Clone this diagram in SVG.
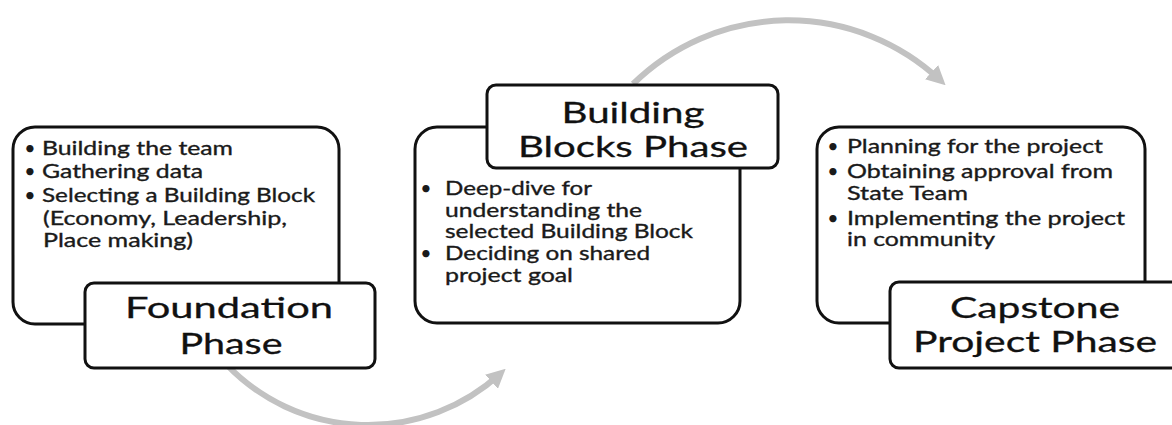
<svg xmlns="http://www.w3.org/2000/svg" width="1172" height="425" viewBox="0 0 1172 425">
  <style>
    .box { fill: #ffffff; stroke: #111111; stroke-width: 3; }
    .item { font-family: Lato, "Open Sans", sans-serif; font-size: 19.5px; fill: #1a1a1a; stroke: #1a1a1a; stroke-width: 0.35; }
    .dot { font-family: Lato, "Open Sans", sans-serif; font-size: 19.5px; fill: #1a1a1a; text-anchor: middle; }
    .title { font-family: Lato, "Open Sans", sans-serif; font-size: 29px; fill: #111111; stroke: #111111; stroke-width: 0.3; text-anchor: middle; }
    .flow { fill: none; stroke: #c2c2c2; stroke-width: 6; }
  </style>
  <defs>
    <marker id="head" viewBox="0 0 10 10" refX="6" refY="5" markerWidth="3.2" markerHeight="3.2" orient="auto" markerUnits="strokeWidth">
      <path d="M0,0 L10,5 L0,10 Z" fill="#c2c2c2"/>
    </marker>
  </defs>

  <g id="connectors">
    <path class="flow" d="M226,364 A196,196 0 0 0 500,374" marker-end="url(#head)"/>
    <path class="flow" d="M633,84 A222,222 0 0 1 940,80" marker-end="url(#head)"/>
  </g>

  <!-- Foundation phase -->
  <g id="foundation">
    <rect class="box" x="13" y="127" width="326" height="197" rx="22"/>
    <text class="dot" x="30" y="155">•</text>
    <text class="item" x="42" y="155" textLength="191" lengthAdjust="spacingAndGlyphs">Building the team</text>
    <text class="dot" x="30" y="178">•</text>
    <text class="item" x="42" y="178" textLength="161" lengthAdjust="spacingAndGlyphs">Gathering data</text>
    <text class="dot" x="30" y="202">•</text>
    <text class="item" x="42" y="202" textLength="273" lengthAdjust="spacingAndGlyphs">Selecting a Building Block</text>
    <text class="item" x="43" y="225" textLength="244" lengthAdjust="spacingAndGlyphs">(Economy, Leadership,</text>
    <text class="item" x="43" y="247" textLength="150" lengthAdjust="spacingAndGlyphs">Place making)</text>
    <rect class="box" x="85" y="283" width="290" height="85" rx="9"/>
    <text class="title" x="229" y="318" textLength="208" lengthAdjust="spacingAndGlyphs">Foundation</text>
    <text class="title" x="231" y="354" textLength="103" lengthAdjust="spacingAndGlyphs">Phase</text>
  </g>

  <!-- Building blocks phase -->
  <g id="building-blocks">
    <rect class="box" x="415" y="127" width="325" height="196" rx="22"/>
    <text class="dot" x="426" y="195">•</text>
    <text class="item" x="445" y="195" textLength="147" lengthAdjust="spacingAndGlyphs">Deep-dive for</text>
    <text class="item" x="445" y="217" textLength="197" lengthAdjust="spacingAndGlyphs">understanding the</text>
    <text class="item" x="445" y="238" textLength="248" lengthAdjust="spacingAndGlyphs">selected Building Block</text>
    <text class="dot" x="426" y="260">•</text>
    <text class="item" x="445" y="260" textLength="205" lengthAdjust="spacingAndGlyphs">Deciding on shared</text>
    <text class="item" x="445" y="282" textLength="128" lengthAdjust="spacingAndGlyphs">project goal</text>
    <rect class="box" x="487" y="85" width="291" height="83" rx="9"/>
    <text class="title" x="633" y="123" textLength="143" lengthAdjust="spacingAndGlyphs">Building</text>
    <text class="title" x="633" y="157" textLength="230" lengthAdjust="spacingAndGlyphs">Blocks Phase</text>
  </g>

  <!-- Capstone project phase -->
  <g id="capstone">
    <rect class="box" x="817" y="127" width="328" height="196" rx="22"/>
    <text class="dot" x="833" y="153">•</text>
    <text class="item" x="847" y="153" textLength="256" lengthAdjust="spacingAndGlyphs">Planning for the project</text>
    <text class="dot" x="833" y="178">•</text>
    <text class="item" x="847" y="178" textLength="266" lengthAdjust="spacingAndGlyphs">Obtaining approval from</text>
    <text class="item" x="847" y="200" textLength="121" lengthAdjust="spacingAndGlyphs">State Team</text>
    <text class="dot" x="833" y="225">•</text>
    <text class="item" x="847" y="225" textLength="278" lengthAdjust="spacingAndGlyphs">Implementing the project</text>
    <text class="item" x="847" y="246" textLength="148" lengthAdjust="spacingAndGlyphs">in community</text>
    <rect class="box" x="890" y="282" width="292" height="86" rx="9"/>
    <text class="title" x="1035" y="318" textLength="170" lengthAdjust="spacingAndGlyphs">Capstone</text>
    <text class="title" x="1035" y="352" textLength="244" lengthAdjust="spacingAndGlyphs">Project Phase</text>
  </g>
</svg>
